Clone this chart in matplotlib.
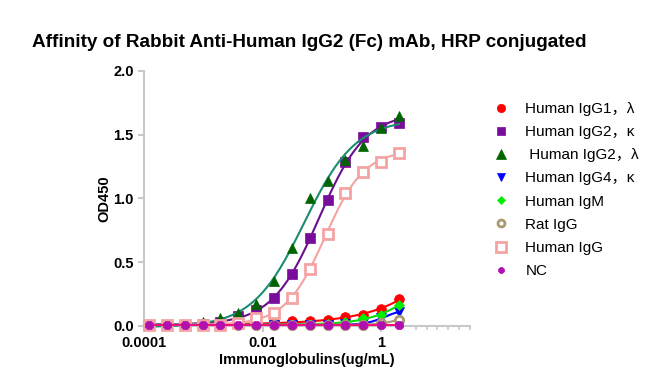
import numpy as np
import matplotlib
matplotlib.use('Agg')
import matplotlib.pyplot as plt
from matplotlib.lines import Line2D

plt.rcParams['font.family'] = ['Liberation Sans', 'Noto Sans CJK SC', 'DejaVu Sans']

# 2-fold serial dilution, ug/mL (low -> high)
conc = 2.0 / 2.0 ** np.arange(14, -1, -1)

names = ['Human IgG1，λ', 'Human IgG2，κ', ' Human IgG2，λ', 'Human IgG4，κ',
         'Human IgM', 'Rat IgG', 'Human IgG', 'NC']

igg1_l = [0.01, 0.01, 0.01, 0.01, 0.01, 0.015, 0.02, 0.03, 0.04, 0.04, 0.05, 0.07, 0.09, 0.13, 0.21]
igg2_k = [0.01, 0.01, 0.01, 0.015, 0.03, 0.08, 0.125, 0.22, 0.41, 0.69, 0.99, 1.29, 1.48, 1.56, 1.59]
igg2_l = [0.01, 0.01, 0.01, 0.03, 0.06, 0.10, 0.17, 0.35, 0.61, 1.00, 1.14, 1.30, 1.41, 1.55, 1.65]
igg4_k = [0.01, 0.01, 0.01, 0.01, 0.01, 0.01, 0.01, 0.01, 0.01, 0.01, 0.01, 0.015, 0.02, 0.06, 0.11]
igm = [0.01, 0.01, 0.01, 0.01, 0.01, 0.01, 0.01, 0.01, 0.01, 0.01, 0.015, 0.03, 0.06, 0.09, 0.165]
rat_igg = [0.01, 0.01, 0.01, 0.01, 0.01, 0.01, 0.01, 0.01, 0.01, 0.01, 0.01, 0.01, 0.01, 0.02, 0.05]
human_igg = [0.01, 0.01, 0.01, 0.01, 0.01, 0.025, 0.065, 0.105, 0.22, 0.45, 0.72, 1.04, 1.21, 1.29, 1.36]
nc = [0.01] * 15

series = [igg1_l, igg2_k, igg2_l, igg4_k, igm, rat_igg, human_igg, nc]

# marker, marker colour, fill, curve colour, size
styles = [
    ('o', '#FF0000', '#FF0000', '#FF0000', 7),
    ('s', '#7A0C9C', '#7A0C9C', '#6A0F8E', 7),
    ('^', '#006400', '#006400', '#1B8C70', 7.5),
    ('v', '#0000FF', '#0000FF', '#0000FF', 6.5),
    ('D', '#00EE00', '#00EE00', '#00DD00', 5.5),
    ('o', '#A89A6E', 'white', '#A89A6E', 6),
    ('s', '#F4A3A3', 'white', '#F4A3A3', 7.5),
    ('8', '#B010B0', '#B010B0', '#F0107A', 6),
]


def fit_4pl(x, y):
    # grid over EC50 and hill slope, bottom/top solved by least squares
    lx = np.log10(x)
    y = np.asarray(y, float)
    best = None
    for le in np.linspace(-4, 3, 141):
        for h in np.linspace(0.3, 3, 55):
            s = 1.0 / (1.0 + 10 ** ((le - lx) * h))
            A = np.column_stack([1 - s, s])
            p, *_ = np.linalg.lstsq(A, y, rcond=None)
            err = np.sum((A @ p - y) ** 2)
            if best is None or err < best[0]:
                best = (err, le, h, p[0], p[1])
    return best[1:]


fig = plt.figure(figsize=(6.7, 3.77), dpi=100)
ax = fig.add_axes([0.2149, 0.1353, 0.4866, 0.6764])

xs = np.logspace(np.log10(conc[0]), np.log10(conc[-1]), 300)
for i, (y, st) in enumerate(zip(series, styles)):
    m, mc, fc, lc, ms = st
    le, h, b, t = fit_4pl(conc, y)
    s = 1.0 / (1.0 + 10 ** ((le - np.log10(xs)) * h))
    ax.plot(xs, b + (t - b) * s, color=lc, lw=1.5, zorder=2 + i, clip_on=False)
    mew = 2 if fc == 'white' else 0.5
    ax.plot(conc, y, ls='none', marker=m, ms=ms, mfc=fc, mec=mc, mew=mew,
            zorder=3 + i, clip_on=False)

ax.set_xscale('log')
ax.set_xlim(1e-4, 10 ** 1.5)
ax.set_ylim(0, 2.0)
ax.set_xticks([1e-4, 1e-2, 1])
ax.set_xticklabels(['0.0001', '0.01', '1'])
minor = 10 ** np.array([0.59, 0.77, 0.95, 1.13, 1.32, 1.5])
ax.set_xticks(minor, minor=True)
ax.xaxis.set_minor_formatter(plt.NullFormatter())
ax.set_yticks([0, 0.5, 1.0, 1.5, 2.0])
ax.set_yticklabels(['0.0', '0.5', '1.0', '1.5', '2.0'])

for sp in ['top', 'right']:
    ax.spines[sp].set_visible(False)
for sp in ['left', 'bottom']:
    ax.spines[sp].set_color('#C8C8C8')
    ax.spines[sp].set_linewidth(1.5)
ax.tick_params(which='major', colors='#C8C8C8', width=1.5, length=4, labelcolor='black',
               labelsize=10.5)
ax.tick_params(which='minor', colors='#C8C8C8', width=1.2, length=3)
for lab in ax.get_xticklabels() + ax.get_yticklabels():
    lab.set_fontweight('bold')

ax.set_xlabel('Immunoglobulins(ug/mL)', fontsize=10.5, fontweight='bold', labelpad=2)
ax.set_ylabel('OD450', fontsize=10.5, fontweight='bold', labelpad=1)

fig.text(0.048, 0.888, 'Affinity of Rabbit Anti-Human IgG2 (Fc) mAb, HRP conjugated',
         fontsize=13.6, fontweight='bold', va='center')

handles = []
for st in styles:
    m, mc, fc, lc, ms = st
    mew = 2 if fc == 'white' else 0.5
    handles.append(Line2D([], [], ls='none', marker=m, ms=ms - 1, mfc=fc, mec=mc, mew=mew))
fig.legend(handles, names, loc='upper left', bbox_to_anchor=(0.725, 0.75),
           frameon=False, fontsize=11, handlelength=1.0, handletextpad=1.1,
           labelspacing=0.6, borderpad=0)

fig.savefig('out.png', dpi=100)
